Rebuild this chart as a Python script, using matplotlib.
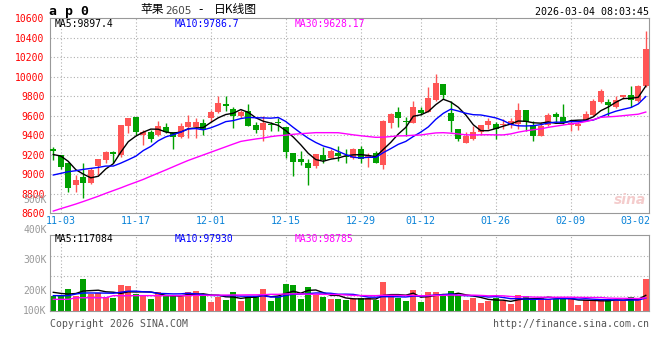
import matplotlib
matplotlib.use('agg')
import matplotlib.pyplot as plt
import numpy as np
import pandas as pd

# daily candles, 2025-10-31 .. 2026-03-03
opens = [9260, 9191, 9109, 8887, 8973, 8911, 9082, 9143, 9229, 9195,
         9496, 9588, 9400, 9427, 9400, 9479, 9427, 9376, 9479, 9485,
         9520, 9578, 9639, 9718, 9663, 9599, 9646, 9505, 9455, 9512,
         9529, 9488, 9212, 9152, 9111, 9084, 9192, 9162, 9219, 9185,
         9168, 9252, 9168, 9219, 9091, 9522, 9637, 9549, 9529, 9656,
         9640, 9757, 9929, 9622, 9464, 9322, 9356, 9430, 9504, 9511,
         9504, 9508, 9511, 9659, 9504, 9390, 9504, 9612, 9582, 9504,
         9498, 9541, 9605, 9740, 9740, 9689, 9790, 9807, 9750, 9902]
closes = [9232, 9070, 8853, 8938, 8904, 9041, 9150, 9229, 9205, 9499,
          9578, 9434, 9434, 9362, 9492, 9434, 9376, 9492, 9533, 9533,
          9451, 9639, 9732, 9701, 9598, 9640, 9495, 9455, 9522, 9502,
          9522, 9226, 9125, 9125, 9064, 9202, 9141, 9232, 9185, 9175,
          9252, 9152, 9192, 9118, 9549, 9616, 9579, 9532, 9690, 9623,
          9785, 9933, 9807, 9548, 9356, 9389, 9430, 9504, 9548, 9464,
          9511, 9541, 9659, 9531, 9390, 9491, 9605, 9588, 9538, 9521,
          9514, 9615, 9750, 9851, 9710, 9757, 9807, 9760, 9908, 10282]
highs = [9280, 9200, 9120, 8990, 9110, 9058, 9150, 9239, 9239, 9499,
         9578, 9588, 9451, 9451, 9544, 9520, 9434, 9520, 9605, 9571,
         9561, 9656, 9800, 9800, 9684, 9657, 9724, 9539, 9596, 9539,
         9572, 9488, 9212, 9236, 9158, 9202, 9279, 9259, 9293, 9252,
         9269, 9286, 9219, 9236, 9556, 9623, 9684, 9589, 9751, 9690,
         9892, 10027, 9929, 9750, 9464, 9430, 9491, 9504, 9575, 9531,
         9565, 9572, 9727, 9659, 9548, 9531, 9625, 9632, 9716, 9548,
         9531, 9649, 9774, 9878, 9767, 9800, 9814, 9902, 9918, 10467]
lows = [9140, 9050, 8818, 8819, 8750, 8897, 8990, 9116, 9109, 9178,
        9417, 9400, 9297, 9332, 9390, 9417, 9256, 9366, 9366, 9366,
        9400, 9537, 9622, 9650, 9468, 9580, 9495, 9421, 9337, 9444,
        9445, 9162, 8976, 9091, 8889, 9057, 9111, 9162, 9135, 9118,
        9152, 9118, 9077, 9111, 9050, 9471, 9488, 9394, 9529, 9606,
        9640, 9751, 9767, 9430, 9336, 9322, 9345, 9397, 9464, 9363,
        9464, 9471, 9464, 9440, 9336, 9390, 9498, 9538, 9514, 9437,
        9457, 9541, 9599, 9733, 9599, 9683, 9767, 9693, 9740, 9895]
volumes = [113, 121, 166, 113, 242, 128, 136, 106, 98, 196,
           189, 128, 113, 91, 143, 113, 113, 113, 143, 151,
           128, 68, 106, 83, 143, 76, 106, 113, 166, 76,
           106, 204, 196, 91, 181, 121, 106, 91, 91, 83,
           91, 98, 98, 83, 219, 121, 98, 76, 159, 68,
           143, 143, 113, 151, 121, 83, 98, 60, 76, 98,
           76, 53, 121, 113, 98, 98, 91, 91, 98, 91,
           45, 83, 83, 83, 91, 76, 76, 106, 91, 242]  # thousand lots

# moving-average values before enough bars are on screen
ma5_head = [9200, 9185, 9130, 9045]
ma10_head = [8990, 9007, 9024, 9034, 9048, 9058, 9068, 9082, 9082]
ma30_head = [8620, 8645, 8668, 8692, 8718, 8745, 8772, 8802, 8830, 8858,
             8888, 8916, 8945, 8978, 9010, 9042, 9075, 9108, 9140, 9168,
             9196, 9224, 9252, 9280, 9308, 9335, 9348, 9360, 9370]
vma5_head = [141, 133, 128, 132]
vma10_head = [116, 116, 116, 128, 136, 136, 136, 135, 134]
vma30_head = [88, 88, 88, 100, 100, 100, 100, 100, 116, 116,
              116, 116, 116, 116, 116, 116, 116, 116, 117, 118,
              118, 119, 120, 120, 121, 121, 122, 122, 123]

date_labels = ['11-03', '11-17', '12-01', '12-15', '12-29', '01-12', '01-26', '02-09', '03-02']
date_idx = [1, 11, 21, 31, 41, 49, 59, 69, 78]
price_ticks = [8600, 8800, 9000, 9200, 9400, 9600, 9800, 10000, 10200, 10400, 10600]

W, H = 660, 360
RED = '#ff5555'
GREEN = '#00a000'
GRID = '#b0b0b0'
FRAME = '#999999'
MONO = 'DejaVu Sans Mono'


def moving_avg(vals, n, head):
    s = pd.Series(vals, dtype=float).rolling(n).mean().values
    s[:n - 1] = head
    return s


def px_rect(left, top, right, bottom):
    return [left / W, 1 - bottom / H, (right - left) / W, (bottom - top) / H]


def ftext(x, y, s, **kw):
    fig.text(x / W, 1 - y / H, s, **kw)


x = np.arange(len(closes))
o = np.array(opens)
c = np.array(closes)
up = c >= o
colors = np.where(up, RED, GREEN)

fig = plt.figure(figsize=(W / 100, H / 100), dpi=100)
fig.patch.set_facecolor('white')

xlim = (-0.44, 79.43)

# ---- price panel
ax = fig.add_axes(px_rect(50, 18.2, 649, 213))
ax.set_xlim(*xlim)
ax.set_ylim(8600, 10600)
for p in price_ticks[1:-1]:
    ax.axhline(p, color=GRID, lw=0.8, ls=(0, (1, 2)), zorder=0)
for i in date_idx[:-1]:
    ax.axvline(i, color=GRID, lw=0.8, ls=(0, (1, 2)), zorder=0)

ax.vlines(x, lows, highs, colors=colors, lw=1, zorder=2)
body_low = np.minimum(o, c)
body_h = np.maximum(np.abs(c - o), 8)
ax.bar(x, body_h, bottom=body_low, width=0.8, color=colors, lw=0, zorder=3)

ax.plot(x, moving_avg(closes, 5, ma5_head), color='black', lw=1, zorder=4)
ax.plot(x, moving_avg(closes, 10, ma10_head), color='#0000ff', lw=1, zorder=4)
ax.plot(x, moving_avg(closes, 30, ma30_head), color='#ff00ff', lw=1, zorder=4)

ax.set_yticks(price_ticks)
ax.set_yticklabels([str(p) for p in price_ticks], color='red', fontsize=7, family=MONO)
ax.tick_params(axis='y', length=0, pad=4)
ax.set_xticks([])
for sp in ax.spines.values():
    sp.set_color(FRAME)
ax.text(0.995, 0.03, 'sina', transform=ax.transAxes, ha='right', va='bottom',
        color='#f4cccc', fontsize=10, fontweight='bold', style='italic', zorder=1)

# ---- volume panel
vax = fig.add_axes(px_rect(50, 234.5, 649, 311))
vax.set_xlim(*xlim)
vax.set_ylim(0, 577.6)
for frac in [0.2, 0.461, 0.723]:
    vax.axhline(frac * 577.6, color=GRID, lw=0.8, ls=(0, (1, 2)), zorder=0)
for i in date_idx[:-1]:
    vax.axvline(i, color=GRID, lw=0.8, ls=(0, (1, 2)), zorder=0)
vax.bar(x, volumes, width=0.8, color=colors, lw=0, zorder=2)
vax.plot(x, moving_avg(volumes, 5, vma5_head), color='black', lw=1, zorder=3)
vax.plot(x, moving_avg(volumes, 10, vma10_head), color='#0000ff', lw=1, zorder=3)
vax.plot(x, moving_avg(volumes, 30, vma30_head), color='#ff00ff', lw=1, zorder=3)
vax.set_xticks([])
vax.set_yticks([])
for sp in vax.spines.values():
    sp.set_color(FRAME)

# date labels
for lab, i in zip(date_labels, date_idx):
    xp = 53.3 + 7.5 * i
    if lab == date_labels[-1]:
        xp = 635
    ftext(xp, 221, lab, ha='center', va='center', color='#0a83d8', fontsize=7.2, family=MONO)

# volume axis labels (grey, as drawn by the source)
for lab, yp in [('500K', 200), ('400K', 230), ('300K', 260), ('200K', 290.7), ('100K', 311.5)]:
    ftext(46.5, yp, lab, ha='right', va='center', color='#999999', fontsize=7, family=MONO)

# header
ftext(49, 11, 'a p 0', ha='left', va='center', fontsize=9.5, fontweight='bold', family=MONO)
ftext(140, 10, '苹果', ha='left', va='center', fontsize=8.5, family='Noto Sans CJK SC')
ftext(165, 10.5, '2605', ha='left', va='center', fontsize=7.5, color='#444444', family='DejaVu Sans')
ftext(198, 10, '-', ha='left', va='center', fontsize=8.5, family='DejaVu Sans')
ftext(214, 10, '日K线图', ha='left', va='center', fontsize=8.5, family='Noto Sans CJK SC')
ftext(649, 12, '2026-03-04 08:03:45', ha='right', va='center', fontsize=7.2, family=MONO)

# MA legends
ftext(55, 24, 'MA5:9897.4', ha='left', va='center', fontsize=7, family=MONO, color='black')
ftext(175, 24, 'MA10:9786.7', ha='left', va='center', fontsize=7, family=MONO, color='#0000ff')
ftext(295, 24, 'MA30:9628.17', ha='left', va='center', fontsize=7, family=MONO, color='#ff00ff')
ftext(55, 239, 'MA5:117084', ha='left', va='center', fontsize=7, family=MONO, color='black')
ftext(175, 239, 'MA10:97930', ha='left', va='center', fontsize=7, family=MONO, color='#0000ff')
ftext(295, 239, 'MA30:98785', ha='left', va='center', fontsize=7, family=MONO, color='#ff00ff')

# footer
ftext(50, 324, 'Copyright 2026 SINA.COM', ha='left', va='center', fontsize=7.1, family=MONO, color='#555555')
ftext(649, 324, 'http://finance.sina.com.cn', ha='right', va='center', fontsize=7.1, family=MONO, color='#555555')

fig.savefig('out.png', dpi=100)
